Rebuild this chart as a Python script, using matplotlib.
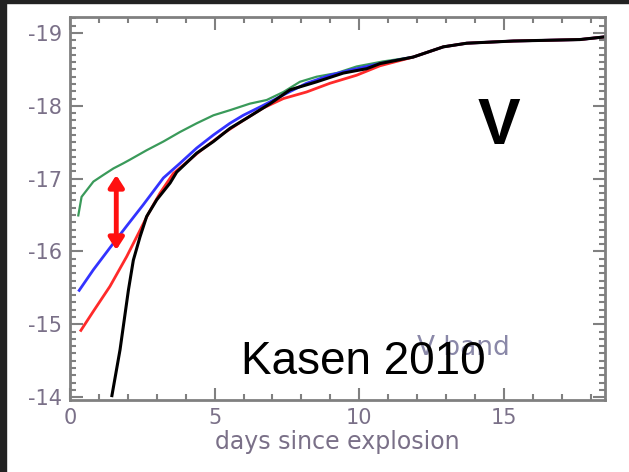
#!/usr/bin/env python3
"""V-band early light curves (Kasen 2010 style) - recreated with matplotlib."""
import matplotlib
matplotlib.use("Agg")
import matplotlib.pyplot as plt
from matplotlib.patches import Rectangle
from matplotlib.ticker import MultipleLocator

plt.rcParams.update({"font.family": "DejaVu Sans", "axes.unicode_minus": False})

# --- datos (dias, magnitud absoluta V) ---
tail_days = [11.87, 12.91, 13.72, 15.33, 17.63, 18.56]
tail_mag = [-18.67, -18.81, -18.86, -18.89, -18.91, -18.95]

green_days = [0.28, 0.40, 0.81, 1.15, 1.50, 1.84, 2.07, 2.65, 3.23, 3.80, 4.38, 4.96, 5.53, 6.22, 6.80, 7.38, 7.95, 8.53, 9.22, 9.91, 10.83]
green_mag = [-16.48, -16.75, -16.96, -17.05, -17.14, -17.21, -17.26, -17.39, -17.51, -17.64, -17.76, -17.87, -17.94, -18.03, -18.08, -18.19, -18.33, -18.40, -18.45, -18.54, -18.61]

blue_days = [0.29, 0.81, 1.38, 1.96, 2.53, 3.23, 3.80, 4.38, 4.96, 5.53, 5.99, 6.60, 7.38, 8.18, 8.99, 9.68, 10.72]
blue_mag = [-15.45, -15.75, -16.05, -16.35, -16.64, -17.01, -17.21, -17.42, -17.60, -17.76, -17.87, -17.99, -18.15, -18.31, -18.42, -18.49, -18.58]

red_days = [0.35, 0.81, 1.38, 1.96, 2.42, 2.71, 3.11, 3.57, 4.50, 5.30, 5.99, 6.68, 7.38, 8.18, 8.99, 9.91, 10.72]
red_mag = [-14.90, -15.18, -15.52, -15.93, -16.29, -16.52, -16.80, -17.07, -17.38, -17.62, -17.80, -17.97, -18.10, -18.19, -18.31, -18.42, -18.55]

black_days = [1.44, 1.73, 2.02, 2.19, 2.42, 2.65, 3.0, 3.46, 3.69, 4.38, 4.96, 5.53, 6.11, 6.92, 7.61, 8.53, 9.45, 10.26, 10.72]
black_mag = [-14.00, -14.65, -15.47, -15.88, -16.20, -16.48, -16.71, -16.94, -17.09, -17.35, -17.51, -17.69, -17.83, -18.03, -18.22, -18.33, -18.45, -18.51, -18.58]

arrow_day = 1.60
arrow_mag = (-17.05, -16.02)

xticks = [0, 5, 10, 15]
yticks = [-19, -18, -17, -16, -15, -14]

fig = plt.figure(figsize=(6.29, 4.72), dpi=100, facecolor="white")
# marco oscuro de la captura
fig.add_artist(Rectangle((0, 0.9936), 1, 0.0064, transform=fig.transFigure, color="#222222", zorder=0))
fig.add_artist(Rectangle((0, 0), 0.0095, 1, transform=fig.transFigure, color="#222222", zorder=0))

ax = fig.add_axes([0.1113, 0.1525, 0.8505, 0.8115])
series = [
    (green_days, green_mag, "#3a9a5a", 1.6),
    (blue_days, blue_mag, "#3333ff", 2.0),
    (red_days, red_mag, "#ff2a2a", 2.0),
    (black_days, black_mag, "black", 2.2),
]
for d, m, col, lw in series:
    ax.plot(d + tail_days, m + tail_mag, color=col, lw=lw, solid_capstyle="butt")

ax.annotate("", xy=(arrow_day, arrow_mag[0]), xytext=(arrow_day, arrow_mag[1]),
            arrowprops=dict(arrowstyle="<|-|>,head_length=0.7,head_width=0.45", color="#ff1010", lw=3.5,
                            shrinkA=0, shrinkB=0))

ax.set_xlim(0, 18.5)
ax.set_ylim(-13.96, -19.22)
ax.set_xticks(xticks)
ax.set_yticks(yticks)
ax.xaxis.set_minor_locator(MultipleLocator(1))
ax.yaxis.set_minor_locator(MultipleLocator(0.1))
lab_col = "#7a7088"
ax.tick_params(which="both", direction="in", top=True, right=True, colors="#808080", width=1.5,
               labelcolor=lab_col, labelsize=15)
ax.tick_params(which="major", length=9, pad=6)
ax.tick_params(which="minor", length=4.5)
for s in ax.spines.values():
    s.set_color("#808080")
    s.set_linewidth(2)
ax.set_xlabel("days since explosion", fontsize=17, color=lab_col, labelpad=1)

ax.text(0.649, 0.136, "V band", transform=ax.transAxes, fontsize=19, color="#8a88a8", va="center")
ax.text(0.32, 0.068, "Kasen 2010", transform=ax.transAxes, fontsize=33, color="black",
        family="Liberation Sans", va="baseline")
ax.text(0.802, 0.713, "V", transform=ax.transAxes, fontsize=46, fontweight="bold", color="black",
        family="Liberation Sans", ha="center", va="center")

fig.savefig("out.png", dpi=100, facecolor="white")
